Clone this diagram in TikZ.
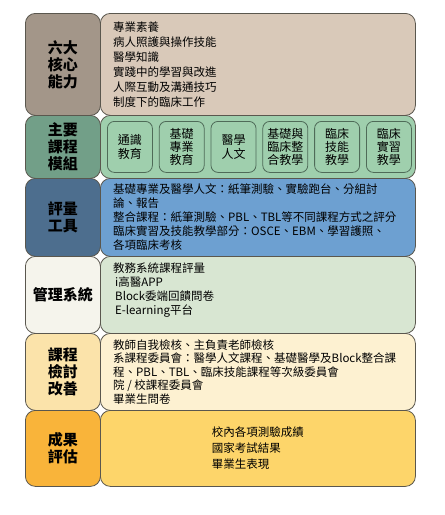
\documentclass[tikz,border=0pt]{standalone}
\usepackage{fontspec}
\setmainfont{Noto Sans CJK TC}
\usepackage{xcolor}
\usetikzlibrary{positioning}

\definecolor{capdark}{HTML}{A39689}
\definecolor{caplight}{HTML}{D9C9B9}
\definecolor{moddark}{HTML}{729F88}
\definecolor{modlight}{HTML}{9FCFAD}
\definecolor{modline}{HTML}{4F6B58}
\definecolor{tooldark}{HTML}{4D6E8E}
\definecolor{toollight}{HTML}{6DA0D1}
\definecolor{mgmtdark}{HTML}{F5F4EC}
\definecolor{mgmtlight}{HTML}{D8E6D2}
\definecolor{revdark}{HTML}{FBE3AA}
\definecolor{revlight}{HTML}{FDF1D1}
\definecolor{outdark}{HTML}{F9B43A}
\definecolor{outlight}{HTML}{FDD56A}
\definecolor{edge}{HTML}{5A574E}

\tikzset{
    cell/.style={draw=edge, line width=0.8pt, rounded corners=10pt, anchor=north west, inner sep=0pt},
    headtext/.style={font=\fontsize{15}{17}\selectfont\bfseries, align=center},
    bodytext/.style={font=\fontsize{11.5}{14}\selectfont, align=left, anchor=west, inner sep=0pt},
    modbox/.style={draw=modline, line width=0.8pt, fill=modlight, rounded corners=7pt,
        minimum width=45pt, minimum height=51pt, inner sep=0pt,
        font=\fontsize{12}{13.3}\selectfont, align=center}
}

\begin{document}
\begin{tikzpicture}[x=1pt,y=-1pt]
    \useasboundingbox (0,0) rectangle (445,515);

    % Six core competences
    \node[cell, fill=capdark, minimum width=75pt, minimum height=102pt] (capL) at (25,13) {};
    \node[cell, fill=caplight, minimum width=315pt, minimum height=102pt] (capR) at (100,13) {};
    \node[headtext] at (capL) {六大\\核心\\能力};
    \node[bodytext, font=\fontsize{11.5}{15}\selectfont] at ([xshift=13pt]capR.west)
        {專業素養\\病人照護與操作技能\\醫學知識\\實踐中的學習與改進\\人際互動及溝通技巧\\制度下的臨床工作};

    % Main course modules
    \node[cell, fill=moddark, minimum width=75pt, minimum height=63pt] (modL) at (25,115) {};
    \node[cell, fill=modlight, minimum width=315pt, minimum height=63pt] (modR) at (100,115) {};
    \node[headtext] at (modL) {主要\\課程\\模組};
    \node[modbox, anchor=west] (gen) at ([xshift=7pt]modR.west) {通識\\教育};
    \node[modbox, right=6pt of gen] (basic) {基礎\\專業\\教育};
    \node[modbox, right=6pt of basic] (human) {醫學\\人文};
    \node[modbox, right=6pt of human] (integ) {基礎與\\臨床整\\合教學};
    \node[modbox, right=6pt of integ] (skill) {臨床\\技能\\教學};
    \node[modbox, right=6pt of skill] (clerk) {臨床\\實習\\教學};

    % Assessment tools
    \node[cell, fill=tooldark, minimum width=75pt, minimum height=78pt] (toolL) at (25,178) {};
    \node[cell, fill=toollight, minimum width=315pt, minimum height=78pt] (toolR) at (100,178) {};
    \node[headtext] at (toolL) {評量\\工具};
    \node[bodytext] at ([xshift=13pt]toolR.west)
        {基礎專業及醫學人文：紙筆測驗、實驗跑台、分組討\\論、報告\\整合課程：紙筆測驗、PBL、TBL等不同課程方式之評分\\臨床實習及技能教學部分：OSCE、EBM、學習護照、\\各項臨床考核};

    % Management system
    \node[cell, fill=mgmtdark, minimum width=75pt, minimum height=77pt] (mgmtL) at (25,256) {};
    \node[cell, fill=mgmtlight, minimum width=315pt, minimum height=77pt] (mgmtR) at (100,256) {};
    \node[headtext] at (mgmtL) {管理系統};
    \node[bodytext] at ([xshift=13pt,yshift=5pt]mgmtR.west)
        {教務系統課程評量\\\hspace{2pt}i高醫APP\\\hspace{2pt}Block委端回饋問卷\\\hspace{2pt}E-learning平台};

    % Course review
    \node[cell, fill=revdark, minimum width=75pt, minimum height=77pt] (revL) at (25,333) {};
    \node[cell, fill=revlight, minimum width=315pt, minimum height=77pt] (revR) at (100,333) {};
    \node[headtext] at (revL) {課程\\檢討\\改善};
    \node[bodytext, font=\fontsize{11.5}{13.5}\selectfont] at ([xshift=13pt]revR.west)
        {教師自我檢核、主負責老師檢核\\系課程委員會：醫學人文課程、基礎醫學及Block整合課\\程、PBL、TBL、臨床技能課程等次級委員會\\院 / 校課程委員會\\畢業生問卷};

    % Outcome assessment
    \node[cell, fill=outdark, minimum width=75pt, minimum height=76pt] (outL) at (25,410) {};
    \node[cell, fill=outlight, minimum width=315pt, minimum height=76pt] (outR) at (100,410) {};
    \node[headtext] at (outL) {成果\\評估};
    \node[bodytext, font=\fontsize{11.5}{16}\selectfont, anchor=center] at (outR)
        {校內各項測驗成績\\國家考試結果\\畢業生表現};
\end{tikzpicture}
\end{document}
